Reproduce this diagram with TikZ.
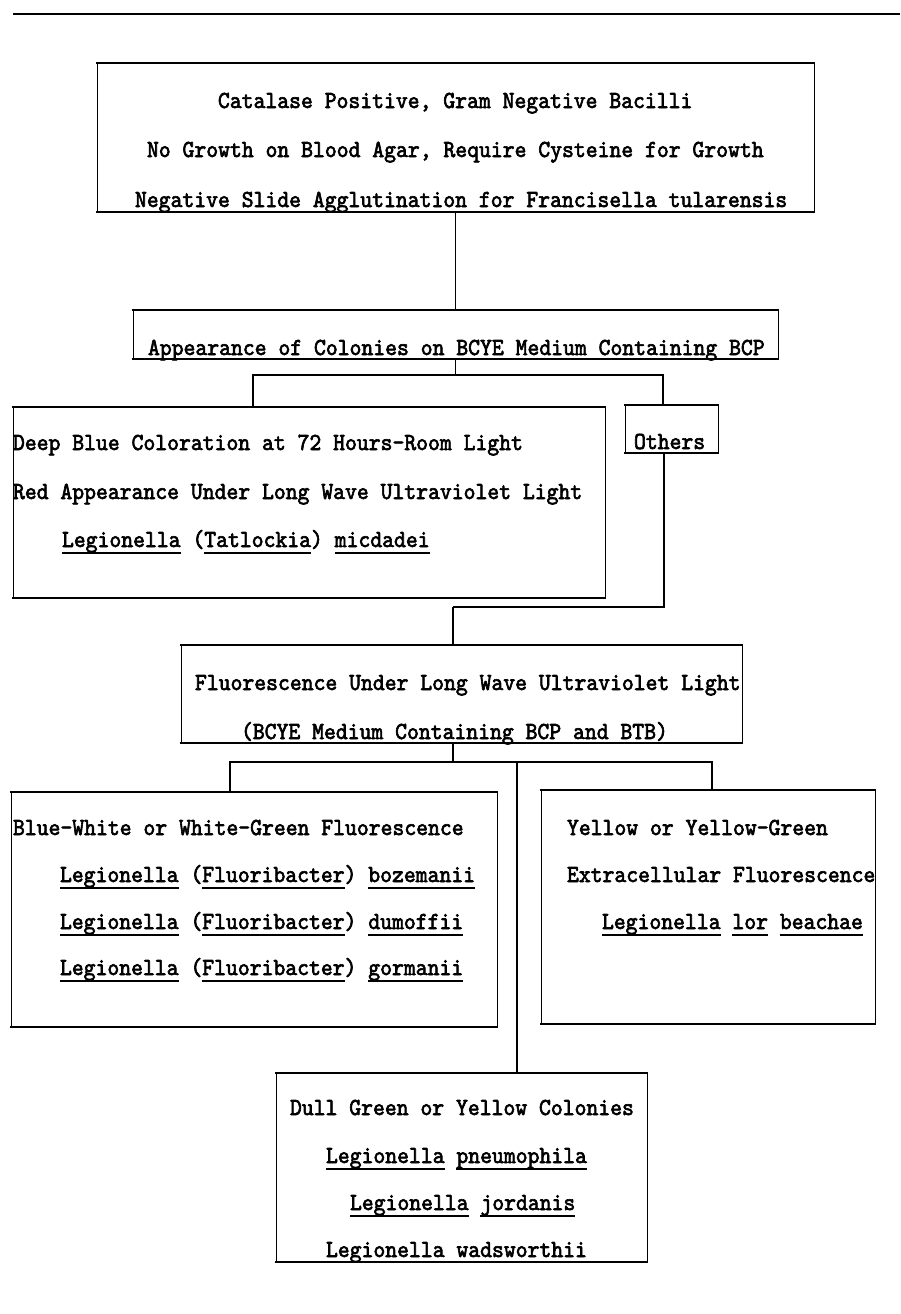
\documentclass[tikz,border=0pt]{standalone}
\usepackage{fontspec}
\newfontfamily\twfont{lmmono10-regular.otf}[FakeBold=2.5,FakeStretch=0.922]
\newsavebox\ulbox
\newcommand\ulw[1]{\sbox\ulbox{#1}\rlap{\vrule width\wd\ulbox height -4.5pt depth 7pt}\usebox\ulbox}
\tikzset{
  boxnode/.style={draw=none, inner sep=0pt, outer sep=0pt},
  hedge/.style={line width=2.4pt, line cap=rect},
  vedge/.style={line width=1pt},
  conn/.style={line width=1.4pt},
  txt/.style={inner sep=0pt, outer sep=0pt, anchor=base west, font=\twfont\fontsize{24.5}{29}\selectfont}
}
\begin{document}
\begin{tikzpicture}[x=1pt,y=1pt]
\useasboundingbox[fill=white] (0,0) rectangle (900,-1314);
% top rule
\coordinate (ruleL) at (13,-14);
\coordinate (ruleR) at (900,-14);
\draw[line width=2.8pt] (ruleL) -- (ruleR);
% boxes
\node[boxnode, minimum width=717, minimum height=149] (b1) at (455.5,-137.5) {};
\node[boxnode, minimum width=645, minimum height=49] (b2) at (455.5,-334.5) {};
\node[boxnode, minimum width=592, minimum height=191] (b3) at (309,-502.5) {};
\node[boxnode, minimum width=93, minimum height=48] (oth) at (671.5,-429) {};
\node[boxnode, minimum width=561, minimum height=98] (b4) at (461.5,-694) {};
\node[boxnode, minimum width=486, minimum height=235] (b5) at (254,-909.5) {};
\node[boxnode, minimum width=334, minimum height=234] (b6) at (708,-907) {};
\node[boxnode, minimum width=371, minimum height=189] (b7) at (461.5,-1167.5) {};
\foreach \n in {b1,b2,b3,oth,b4,b5,b6,b7}{
  \draw[hedge] (\n.north west) -- (\n.north east);
  \draw[hedge] (\n.south west) -- (\n.south east);
  \draw[vedge] (\n.north west) -- (\n.south west);
  \draw[vedge] (\n.north east) -- (\n.south east);
}
% texts
\node[txt] (t1) at (218,-108) {Catalase Positive, Gram Negative Bacilli};
\node[txt] (t2) at (147,-157) {No Growth on Blood Agar, Require Cysteine for Growth};
\node[txt] (t3) at (135,-207) {Negative Slide Agglutination for Francisella tularensis};
\node[txt] (t4) at (148,-355) {Appearance of Colonies on BCYE Medium Containing BCP};
\node[txt] (t5) at (13,-450) {Deep Blue Coloration at 72 Hours-Room Light};
\node[txt] (t6) at (13,-499) {Red Appearance Under Long Wave Ultraviolet Light};
\node[txt] (t7) at (62,-547) {\ulw{Legionella} (\ulw{Tatlockia}) \ulw{micdadei}};
\node[txt] (t8) at (634,-449) {Others};
\node[txt] (t9) at (195,-690) {Fluorescence Under Long Wave Ultraviolet Light};
\node[txt] (t10) at (241,-739) {(BCYE Medium Containing BCP and BTB)};
\node[txt] (t11) at (13,-835) {Blue-White or White-Green Fluorescence};
\node[txt] (t12) at (60,-882) {\ulw{Legionella} (\ulw{Fluoribacter}) \ulw{bozemanii}};
\node[txt] (t13) at (60,-929) {\ulw{Legionella} (\ulw{Fluoribacter}) \ulw{dumoffii}};
\node[txt] (t14) at (60,-975) {\ulw{Legionella} (\ulw{Fluoribacter}) \ulw{gormanii}};
\node[txt] (t15) at (567,-835) {Yellow or Yellow-Green};
\node[txt] (t16) at (567,-882) {Extracellular Fluorescence};
\node[txt] (t17) at (602,-929) {\ulw{Legionella} \ulw{lor} \ulw{beachae}};
\node[txt] (t18) at (290,-1115) {Dull Green or Yellow Colonies};
\node[txt] (t19) at (326,-1163) {\ulw{Legionella} \ulw{pneumophila}};
\node[txt] (t20) at (350,-1210) {\ulw{Legionella} \ulw{jordanis}};
\node[txt] (t21) at (326,-1257) {Legionella wadsworthii};
% connectors
\draw[conn] (b1.south) -- (b2.north);
\coordinate (j1) at (455.5,-375);
\coordinate (j1L) at (253,-375);
\coordinate (j1R) at (663,-375);
\draw[conn] (b2.south) -- (j1);
\draw[conn] (j1L |- b3.north) -- (j1L) -- (j1R) -- (j1R |- oth.north);
\coordinate (j2a) at (664,-607);
\coordinate (j2b) at (453,-607);
\draw[line width=2pt] (j2a |- oth.south) -- (j2a) -- (j2b);
\draw[conn] (j2b) -- (j2b |- b4.north);
\coordinate (j3) at (453,-762);
\coordinate (j3L) at (230,-762);
\coordinate (j3R) at (712,-762);
\coordinate (j3M) at (517,-762);
\draw[conn] (j3 |- b4.south) -- (j3);
\draw[conn] (j3L |- b5.north) -- (j3L) -- (j3R) -- (j3R |- b6.north);
\draw[conn] (j3M) -- (j3M |- b7.north);
\end{tikzpicture}
\end{document}
